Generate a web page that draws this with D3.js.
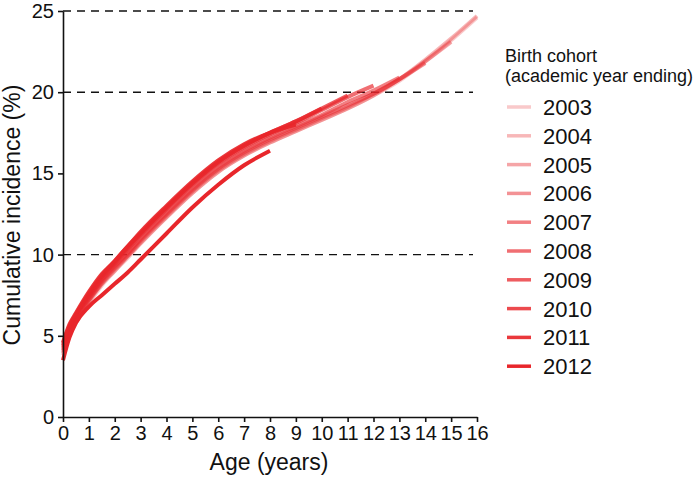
<html>
<head>
<script src="https://d3js.org/d3.v7.min.js"></script>
<style>
  body { margin: 0; background: #fff; }
  text { font-family: "Liberation Sans", Arial, sans-serif; fill: #111; }
</style>
</head>
<body>
<div id="chart"><svg width="700" height="477"></svg></div>
<script>
// ages (years) at which the curves were read
var ages = [0, 0.25, 0.5, 1, 1.5, 2, 2.5, 3, 4, 5, 6, 7, 8, 9, 10, 11, 12, 13, 14, 15, 16]

var cohorts = ["2003", "2004", "2005", "2006", "2007", "2008", "2009", "2010", "2011", "2012"]

// cumulative incidence (%) for each cohort, one value per age above (shorter = less follow-up)
var c2003 = [3.8, 5.0, 5.8, 7.0, 8.1, 9.0, 9.8, 10.7, 12.3, 13.8, 15.1, 16.1, 16.9, 17.6, 18.3, 19.0, 19.8, 20.7, 21.9, 23.2, 24.6]
var c2004 = [3.9, 5.1, 5.9, 7.1, 8.2, 9.0, 9.9, 10.7, 12.3, 13.8, 15.1, 16.1, 16.9, 17.6, 18.3, 19.0, 19.8, 20.8, 22.0, 23.3, 24.7]
var c2005 = [4.0, 5.2, 5.9, 7.2, 8.2, 9.1, 9.9, 10.8, 12.4, 13.9, 15.2, 16.2, 17.0, 17.7, 18.4, 19.1, 19.9, 20.8, 21.9, 23.1]
var c2006 = [4.1, 5.2, 6.0, 7.2, 8.3, 9.2, 10.0, 10.9, 12.5, 14.0, 15.3, 16.3, 17.1, 17.8, 18.5, 19.2, 19.9, 20.8, 21.8]
var c2007 = [4.2, 5.3, 6.1, 7.3, 8.4, 9.3, 10.1, 11.0, 12.6, 14.1, 15.4, 16.4, 17.2, 17.9, 18.6, 19.4, 20.1, 20.9]
var c2008 = [4.3, 5.4, 6.2, 7.4, 8.5, 9.4, 10.3, 11.2, 12.8, 14.3, 15.6, 16.6, 17.4, 18.1, 18.9, 19.7, 20.4]
var c2009 = [4.4, 5.5, 6.3, 7.5, 8.6, 9.5, 10.4, 11.3, 12.9, 14.4, 15.7, 16.7, 17.5, 18.2, 19.0, 19.8]
var c2010 = [4.5, 5.6, 6.3, 7.6, 8.7, 9.6, 10.5, 11.3, 12.9, 14.4, 15.7, 16.7, 17.5, 18.2, 19.0]
var c2011 = [4.6, 5.7, 6.4, 7.7, 8.8, 9.6, 10.5, 11.4, 13.0, 14.5, 15.8, 16.8, 17.5, 18.0]
var c2012 = [3.5, 4.9, 5.8, 6.8, 7.5, 8.2, 8.9, 9.7, 11.3, 12.9, 14.3, 15.5, 16.4]

var cohortValues = [c2003, c2004, c2005, c2006, c2007, c2008, c2009, c2010, c2011, c2012]

var xTicks = d3.range(0, 17)
var yTicks = [0, 5, 10, 15, 20, 25]
var gridValues = [10, 20, 25]

var svg = d3.select('#chart svg')

var mLeft = 63, mRight = 477, mTop = 11, mBottom = 417

var ageScale = d3.scaleLinear().domain([0, 16]).range([mLeft, mRight])
var incScale = d3.scaleLinear().domain([0, 25]).range([mBottom, mTop])

var opacity = d3.scaleLinear().domain([0, cohorts.length - 1]).range([0.25, 1])
var red = "#e8262b"

// dashed reference lines
svg.append("g").selectAll("line")
    .data(gridValues)
    .enter()
    .append("line")
    .attr("x1", mLeft)
    .attr("x2", mRight - 4)
    .attr("y1", function(d) { return incScale(d) })
    .attr("y2", function(d) { return incScale(d) })
    .attr("stroke", "#111")
    .attr("stroke-width", 1.4)
    .attr("stroke-dasharray", "8,6")

var line = d3.line()
    .x(function(d) { return ageScale(d[0]) })
    .y(function(d) { return incScale(d[1]) })
    .curve(d3.curveMonotoneX)

svg.append("g").selectAll("path")
    .data(cohortValues)
    .enter()
    .append("path")
    .attr("d", function(vals) {
        return line(vals.map(function(v, i) { return [ages[i], v] }))
    })
    .attr("fill", "none")
    .attr("stroke", red)
    .attr("stroke-opacity", function(d, i) { return opacity(i) })
    .attr("stroke-width", 4)
    .attr("stroke-linecap", "butt")

// axes
var xAxis = d3.axisBottom(ageScale).tickValues(xTicks).tickSize(5).tickPadding(4).tickSizeOuter(0)
var yAxis = d3.axisLeft(incScale).tickValues(yTicks).tickSize(5).tickPadding(4).tickSizeOuter(0)

var gx = svg.append("g").attr("transform", "translate(0," + mBottom + ")").call(xAxis)
var gy = svg.append("g").attr("transform", "translate(" + mLeft + ",0)").call(yAxis)

;[gx, gy].forEach(function(g) {
    g.selectAll("path, line").attr("stroke", "#111").attr("stroke-width", 1.6)
    g.selectAll("text").attr("font-size", 20).attr("font-family", "Liberation Sans, Arial, sans-serif").attr("fill", "#111")
})

svg.append("text")
    .attr("x", 269)
    .attr("y", 470)
    .attr("text-anchor", "middle")
    .attr("font-size", 23)
    .text("Age (years)")

svg.append("text")
    .attr("transform", "translate(20,215) rotate(-90)")
    .attr("text-anchor", "middle")
    .attr("font-size", 23)
    .text("Cumulative incidence (%)")

// legend
var legend = svg.append("g")
legend.append("text").attr("x", 505).attr("y", 62).attr("font-size", 18).text("Birth cohort")
legend.append("text").attr("x", 505).attr("y", 82).attr("font-size", 18).text("(academic year ending)")

var items = legend.selectAll("g.item")
    .data(cohorts)
    .enter()
    .append("g")
    .classed("item", true)
    .attr("transform", function(d, i) { return "translate(0," + (107 + i * 28.8) + ")" })

items.append("line")
    .attr("x1", 507).attr("x2", 531)
    .attr("stroke", red)
    .attr("stroke-opacity", function(d, i) { return opacity(i) })
    .attr("stroke-width", 3.5)

items.append("text")
    .attr("x", 543)
    .attr("y", 8)
    .attr("font-size", 22)
    .text(function(d) { return d })
</script>
</body>
</html>
